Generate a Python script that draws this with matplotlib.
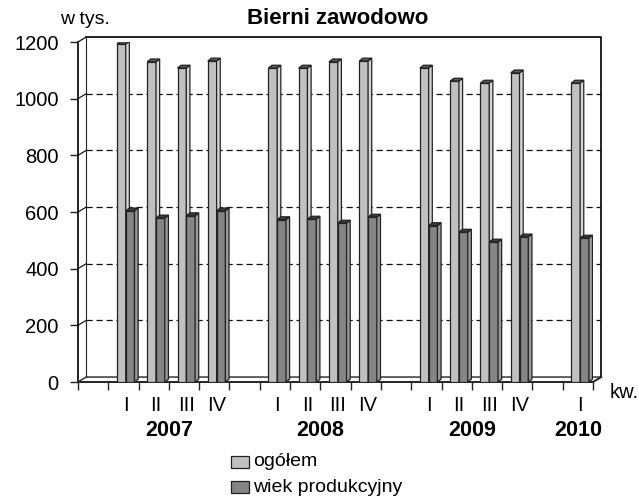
import numpy as np
import matplotlib
matplotlib.use('Agg')
import matplotlib.pyplot as plt
from matplotlib.patches import Polygon, Rectangle

plt.rcParams['font.family'] = ['Liberation Sans', 'DejaVu Sans']

# data (thousands of people)
years = ['2007', '2008', '2009', '2010']
quarters = [['I', 'II', 'III', 'IV'],
            ['I', 'II', 'III', 'IV'],
            ['I', 'II', 'III', 'IV'],
            ['I']]
ogolem = [[1193, 1130, 1108, 1133],
          [1108, 1108, 1130, 1133],
          [1108, 1062, 1055, 1091],
          [1055]]
wiek_prod = [[604, 579, 587, 604],
             [573, 575, 561, 582],
             [552, 529, 494, 512],
             [508]]
series_names = ['ogółem', 'wiek produkcyjny']
front_colors = ['#c0c0c0', '#858585']
side_colors = ['#d6d6d6', '#9a9a9a']
top_colors = ['#5a5a5a', '#3c3c3c']

# build slots: one empty slot before every year
slot_labels, vals1, vals2, year_pos = [], [], [], []
for y, qs, a, b in zip(years, quarters, ogolem, wiek_prod):
    slot_labels.append('')
    vals1.append(np.nan)
    vals2.append(np.nan)
    start = len(slot_labels)
    slot_labels += qs
    vals1 += a
    vals2 += b
    year_pos.append((start + len(slot_labels) - 1) / 2 + 0.5)

n = len(slot_labels)
x = np.arange(n) + 0.5

fig = plt.figure(figsize=(6.39, 4.99), dpi=100)
ax = fig.add_axes([78 / 639, 1 - 382 / 499, 515 / 639, 340 / 499])
ax.set_xlim(0, n)
ax.set_ylim(0, 1200)
for s in ax.spines.values():
    s.set_visible(False)

DX, DY = 0.27, 17.5   # wall depth
bx, by = 0.12, 10.0   # bar depth
lc = '#222222'

# walls and floor
ax.plot([DX, n + DX, n + DX], [1200 + DY, 1200 + DY, DY], color=lc, lw=1.4, clip_on=False)
ax.plot([0, 0], [0, 1200], color=lc, lw=1.4, clip_on=False)
ax.plot([DX, DX], [DY, 1200 + DY], color=lc, lw=0.8, clip_on=False)
ax.plot([0, DX], [1200, 1200 + DY], color=lc, lw=1.0, clip_on=False)
ax.plot([0, n, n + DX], [0, 0, DY], color=lc, lw=1.4, clip_on=False)
ax.plot([0, DX, n + DX], [0, DY, DY], color=lc, lw=1.0, clip_on=False)
for v in range(200, 1200, 200):
    ax.plot([DX, n + DX], [v + DY, v + DY], color='#111111', lw=0.9,
            dashes=(5, 3), clip_on=False)
    ax.plot([0, DX], [v, v + DY], color='black', lw=0.8, clip_on=False)

# bars with a simple 3D look
w = 0.29
offsets = [-0.215, 0.075]
for k, vals in enumerate([vals1, vals2]):
    bars = ax.bar(x + offsets[k], vals, width=w, align='edge',
                  color=front_colors[k], edgecolor=lc, linewidth=0.9, zorder=3 + k)
    for r in bars:
        h = r.get_height()
        if np.isnan(h):
            continue
        x0, x1 = r.get_x(), r.get_x() + r.get_width()
        ax.add_patch(Polygon([(x1, 0), (x1 + bx, by), (x1 + bx, h + by), (x1, h)],
                             closed=True, fc=side_colors[k], ec=lc, lw=0.9, zorder=3 + k))
        ax.add_patch(Polygon([(x0, h), (x0 + bx, h + by), (x1 + bx, h + by), (x1, h)],
                             closed=True, fc=top_colors[k], ec=lc, lw=0.9, zorder=3 + k))

# ticks
ax.set_yticks(range(0, 1201, 200))
ax.tick_params(axis='y', length=6, width=1.0, color=lc, pad=8, labelsize=14.5)
ax.set_xticks(np.arange(0, n + 1), minor=True)
ax.set_xticks(x + 0.07)
ax.set_xticklabels(slot_labels)
ax.tick_params(axis='x', which='major', length=0, pad=10, labelsize=14.5)
ax.tick_params(axis='x', which='minor', length=6, width=1.0, color=lc)

for yr, p in zip(years, year_pos):
    ax.text(p, -0.143, yr, transform=ax.get_xaxis_transform(), ha='center',
            va='center', fontsize=15.5, fontweight='bold')

fig.text(610 / 639, 1 - 392 / 499, 'kw.', fontsize=14.5, ha='left', va='center')
fig.text(85 / 639, 1 - 20 / 499, 'w tys.', fontsize=14, ha='center', va='center')
fig.text(338 / 639, 1 - 19 / 499, 'Bierni zawodowo', fontsize=16, fontweight='bold',
         ha='center', va='center')

# legend
for i, (name, c) in enumerate(zip(series_names, front_colors)):
    yc = 462 + 25 * i
    fig.patches.append(Rectangle((231 / 639, 1 - (yc + 6) / 499), 18 / 639, 12 / 499,
                                 transform=fig.transFigure, fc=c, ec=lc, lw=0.9))
    fig.text(253 / 639, 1 - yc / 499, name, fontsize=14, ha='left', va='center')

fig.savefig('out.png', dpi=100, facecolor='white')
